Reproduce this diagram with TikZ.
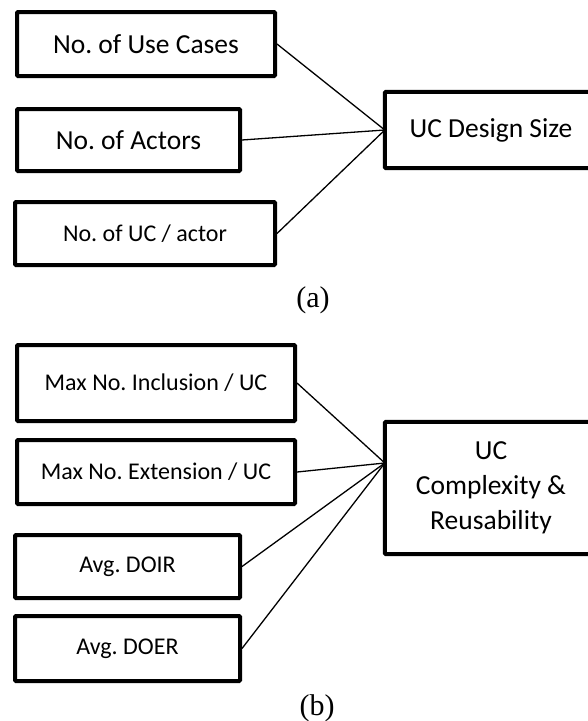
\documentclass[tikz,border=0pt]{standalone}
\usepackage{fontspec}
\setmainfont{Carlito}
\newfontfamily\capfont{Liberation Serif}
\usepackage{tikz}
\usetikzlibrary{calc}
\frenchspacing

\begin{document}
\begin{tikzpicture}[x=1pt, y=-1pt,
    frame/.style={line width=4pt, rounded corners=1pt},
    metric/.style={draw, frame, inner sep=0pt,
                   font=\fontsize{27.5}{33}\selectfont},
    small/.style={font=\fontsize{24}{29}\selectfont},
    goal/.style={inner sep=0pt, align=center, minimum width=212pt,
                 font=\fontsize{27.5}{35}\selectfont},
    link/.style={line width=1.3pt},
    sublbl/.style={font=\capfont\fontsize{30}{36}\selectfont}
  ]
  \useasboundingbox (0,0) rectangle (587,721);

  % (a) Design size
  \node[metric, minimum width=258pt, minimum height=64pt] (usecases) at (146,44) {No. of Use Cases};
  \node[metric, minimum width=223pt, minimum height=62pt] (actors) at (128.5,140) {No. of Actors};
  \node[metric, small, minimum width=260pt, minimum height=63pt] (ucactor) at (145,233.5) {No. of UC / actor};
  \node[goal, minimum height=76pt] (size) at (491,130) {UC Design Size};
  \draw[frame] (size.north west) rectangle ($(size.south east)+(60,0)$);
  \node[sublbl] (capa) at (313,300) {(a)};

  \draw[link] (usecases.east) -- (size.west);
  \draw[link] (actors.east) -- (size.west);
  \draw[link] (ucactor.east) -- (size.west);

  % (b) Complexity & reusability
  \node[metric, small, minimum width=278pt, minimum height=76pt] (incl) at (156,383) {Max No. Inclusion / UC};
  \node[metric, small, minimum width=278pt, minimum height=64pt] (ext) at (156,472) {Max No. Extension / UC};
  \node[metric, small, minimum width=225pt, minimum height=63pt] (doir) at (127.5,566.5) {Avg. DOIR};
  \node[metric, small, minimum width=225pt, minimum height=65pt] (doer) at (127.5,648.5) {Avg. DOER};
  \node[goal, minimum height=132pt] (cplx) at (491,488) {UC\\Complexity \&\\Reusability};
  \draw[frame] (cplx.north west) rectangle ($(cplx.south east)+(60,0)$);
  \coordinate (hub) at ($(cplx.west)+(0,-25)$);
  \node[sublbl] (capb) at (317,708) {(b)};

  \draw[link] (incl.east) -- (hub);
  \draw[link] (ext.east) -- (hub);
  \draw[link] (doir.east) -- (hub);
  \draw[link] (doer.east) -- (hub);

\end{tikzpicture}
\end{document}
